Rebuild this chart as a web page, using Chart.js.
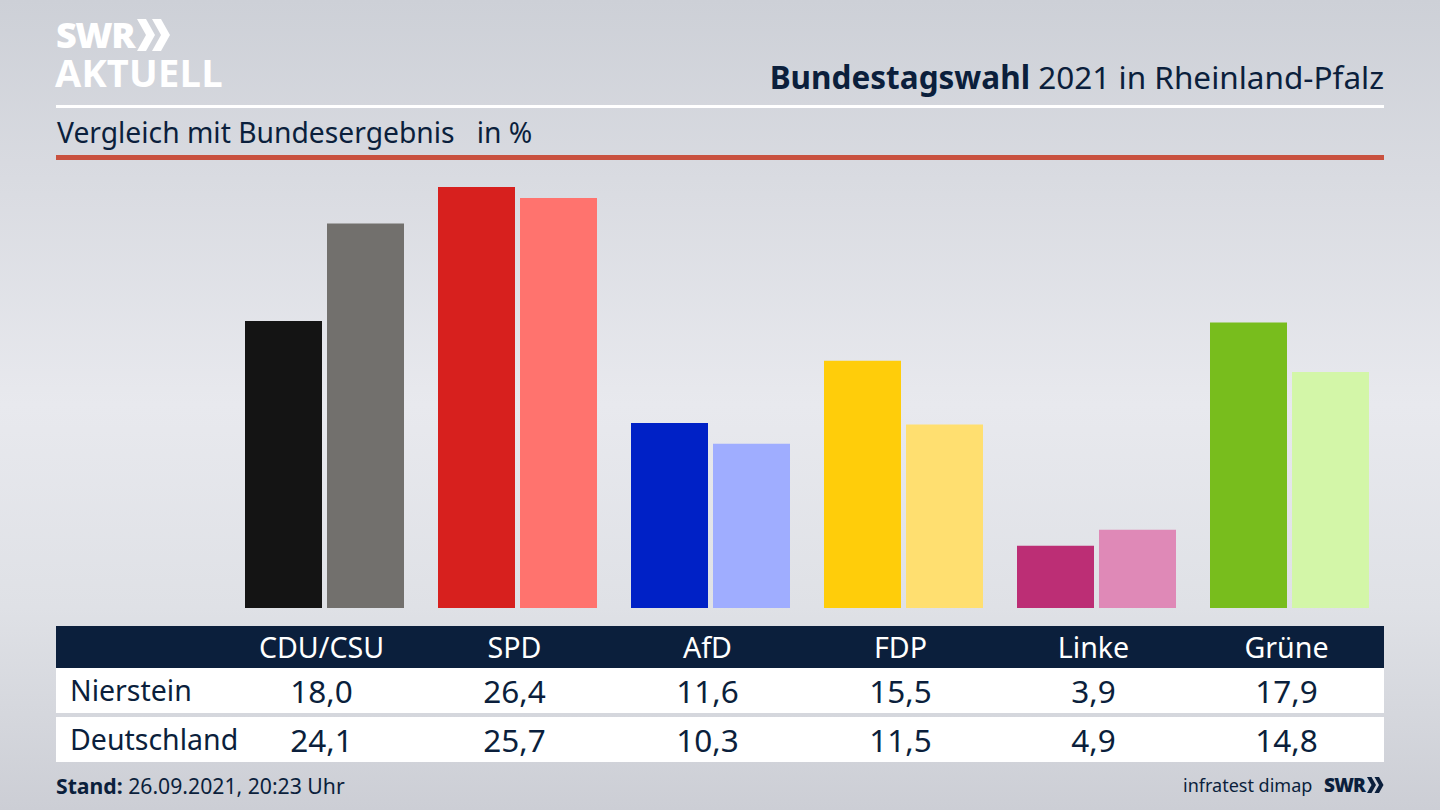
<!DOCTYPE html>
<html lang="de">
<head>
<meta charset="UTF-8">
<title>Bundestagswahl 2021 in Rheinland-Pfalz</title>
<script src="https://cdn.jsdelivr.net/npm/chart.js"></script>
<style>
  html, body { margin: 0; padding: 0; }
  body {
    width: 1440px; height: 810px; position: relative; overflow: hidden;
    font-family: "Noto Sans", sans-serif; color: #0b1f3c;
    background: linear-gradient(180deg, #cdd0d7 0%, #d9dbe1 22%, #e8e9ee 50%, #dfe1e6 75%, #ccced5 100%);
  }
  .abs { position: absolute; white-space: nowrap; }
  #chart { position: absolute; left: 228px; top: 160px; }
  .cell { transform: translateX(-50%); }
</style>
</head>
<body>
<div class="abs" style="left:56px;top:12px;font:900 36px/46px 'Open Sans',sans-serif;color:#fff;letter-spacing:-1.5px">SWR</div>
<svg class="abs" style="left:137px;top:19px" width="34" height="34" viewBox="0 0 34 34">
  <path d="M0 0h9l9 16-9 16H0l9-16zM15 0h9l9 16-9 16h-9l9-16z" fill="#fff"/>
</svg>
<div class="abs" style="left:55px;top:49px;font:700 38px/46px 'Open Sans',sans-serif;color:#fff;letter-spacing:0.2px">AKTUELL</div>

<div class="abs" style="right:56px;top:56px;font-size:31.5px;line-height:42px"><b>Bundestagswahl</b> 2021 in Rheinland-Pfalz</div>
<div class="abs" style="left:56px;top:105px;width:1328px;height:3px;background:#fff"></div>
<div class="abs" style="left:57px;top:112px;font-size:28.25px;line-height:40px;white-space:pre">Vergleich mit Bundesergebnis   in %</div>
<div class="abs" style="left:56px;top:155px;width:1328px;height:5px;background:#c9513f"></div>

<canvas id="chart" width="1158" height="448"></canvas>

<div class="abs" style="left:56px;top:626px;width:1328px;height:42px;background:#0b1f3c"></div>
<div class="abs" style="left:56px;top:668px;width:1328px;height:45px;background:#fff"></div>
<div class="abs" style="left:56px;top:717px;width:1328px;height:45px;background:#fff"></div>
<div id="table"></div>

<div class="abs" style="left:56px;top:771px;font-size:21.2px;line-height:29px"><b>Stand:</b> 26.09.2021, 20:23 Uhr</div>
<div class="abs" style="left:1183px;top:771px;font-size:18px;line-height:28px">infratest dimap</div>
<div class="abs" style="left:1324px;top:771px;font:900 19px/28px 'Open Sans',sans-serif;letter-spacing:-0.8px">SWR</div>
<svg class="abs" style="left:1367px;top:777px" width="17" height="16" viewBox="0 0 34 32">
  <path d="M0 0h9l9 16-9 16H0l9-16zM15 0h9l9 16-9 16h-9l9-16z" fill="#0b1f3c"/>
</svg>

<script>
const parteien = ['CDU/CSU', 'SPD', 'AfD', 'FDP', 'Linke', 'Grüne'];
const nierstein = [18.0, 26.4, 11.6, 15.5, 3.9, 17.9];
const deutschland = [24.1, 25.7, 10.3, 11.5, 4.9, 14.8];
const farbenNierstein = ['#141414', '#d7201e', '#0021c6', '#ffcd0a', '#bc2e75', '#78bd1d'];
const farbenDeutschland = ['#72706d', '#ff736e', '#9fadff', '#ffdf70', '#df89b7', '#d3f6a8'];

const chart = new Chart(document.getElementById('chart'), {
    type: 'bar',
    data: {
        labels: parteien,
        datasets: [
            { label: 'Nierstein', data: nierstein, backgroundColor: farbenNierstein },
            { label: 'Deutschland', data: deutschland, backgroundColor: farbenDeutschland }
        ]
    },
    options: {
        responsive: false,
        animation: false,
        devicePixelRatio: 1,
        layout: { padding: 0 },
        datasets: { bar: { categoryPercentage: 164 / 193, barPercentage: 77 / 82 } },
        plugins: { legend: { display: false }, tooltip: { enabled: false } },
        scales: {
            x: { display: false },
            y: { display: false, min: 0, max: 448 / 15.95 }
        }
    }
});

// Tabelle unter dem Diagramm, Spalten kommen aus der x-Achse
function zelle(text, x, top, farbe, groesse) {
    const d = document.createElement('div');
    d.className = x === null ? 'abs' : 'abs cell';
    d.textContent = text;
    d.style.left = (x === null ? 70 : x) + 'px';
    d.style.top = top + 'px';
    d.style.color = farbe;
    d.style.fontSize = groesse + 'px';
    d.style.lineHeight = '40px';
    document.getElementById('table').appendChild(d);
}

const komma = v => v.toFixed(1).replace('.', ',');
zelle('Nierstein', null, 670, '#0b1f3c', 28.5);
zelle('Deutschland', null, 719, '#0b1f3c', 28.5);
parteien.forEach((p, i) => {
    const x = 228 + chart.scales.x.getPixelForValue(i) - 3;
    zelle(p, x, 627, '#ffffff', 28.6);
    zelle(komma(nierstein[i]), x, 671, '#0b1f3c', 31.5);
    zelle(komma(deutschland[i]), x, 720, '#0b1f3c', 31.5);
});
</script>
</body>
</html>
